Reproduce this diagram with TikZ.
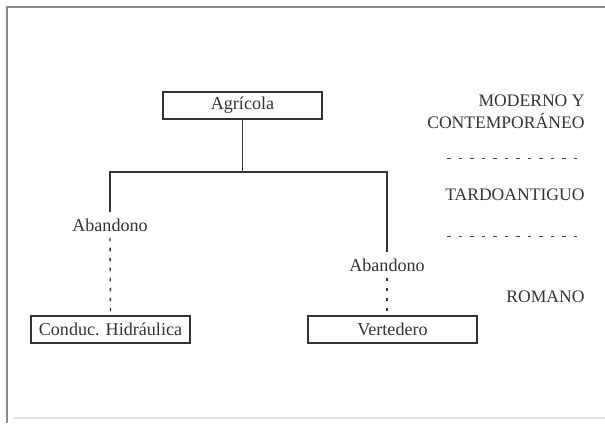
\documentclass[tikz,border=0pt]{standalone}
\usepackage{fontspec}
\setmainfont{Liberation Serif}
\usetikzlibrary{calc}
\begin{document}
\begin{tikzpicture}[x=0.2mm,y=0.2mm,semithick,color=black!80,
  font=\fontsize{10.3}{12}\selectfont,
  caja/.style={draw,minimum height=5.4mm,inner sep=1pt},
  periodo/.style={anchor=east,align=right,inner sep=0pt,font=\fontsize{10}{12.5}\selectfont},
  corte/.style={black!75,line width=0.5pt,dash pattern=on 0.7mm off 1.6mm},
  puntos/.style={thick,dash pattern=on 0.7mm off 1.3mm}]
\useasboundingbox (0,0) rectangle (605,423);
\coordinate (F1) at (7,0);
\coordinate (F2) at (7,416);
\coordinate (F3) at (605,416);
\coordinate (F4) at (14,5);
\coordinate (F5) at (605,5);
\coordinate (A1) at (242.5,317.5);
\coordinate (B1) at (110.5,93.5);
\coordinate (B2) at (392.5,93.5);
\coordinate (N1) at (110,198);
\coordinate (N2) at (387,158);
\coordinate (J1) at (242.5,251);
\coordinate (P1) at (585,311);
\coordinate (P2) at (585,228);
\coordinate (P3) at (585,126);
\coordinate (L1) at (447,265);
\coordinate (L2) at (585,265);
\coordinate (L3) at (447,187);
\coordinate (L4) at (585,187);
% marco
\draw[black!45,line width=0.9pt] (F1) -- (F2) -- (F3);
\draw[black!12] (F4) -- (F5);
% arbol
\node[caja,minimum width=31.8mm] (agricola) at (A1) {Agrícola};
\node[caja,minimum width=31.8mm] (conduc) at (B1) {Conduc. Hidráulica};
\node[caja,minimum width=33.8mm] (vert) at (B2) {Vertedero};
\node (aband1) at (N1) {Abandono};
\node (aband2) at (N2) {Abandono};
\draw (agricola) -- (J1);
\draw (aband1.north) |- (J1) -| (aband2.north);
\draw[puntos] (aband1.south) -- (conduc.north);
\draw[puntos] (aband2.south) -- (aband2.south |- vert.north);
% periodos
\node[periodo] (moderno) at (P1) {MODERNO Y\\CONTEMPORÁNEO};
\node[periodo] (tardo) at (P2) {TARDOANTIGUO};
\node[periodo] (romano) at (P3) {ROMANO};
\draw[corte] (L1) -- (L2);
\draw[corte] (L3) -- (L4);
\end{tikzpicture}
\end{document}
